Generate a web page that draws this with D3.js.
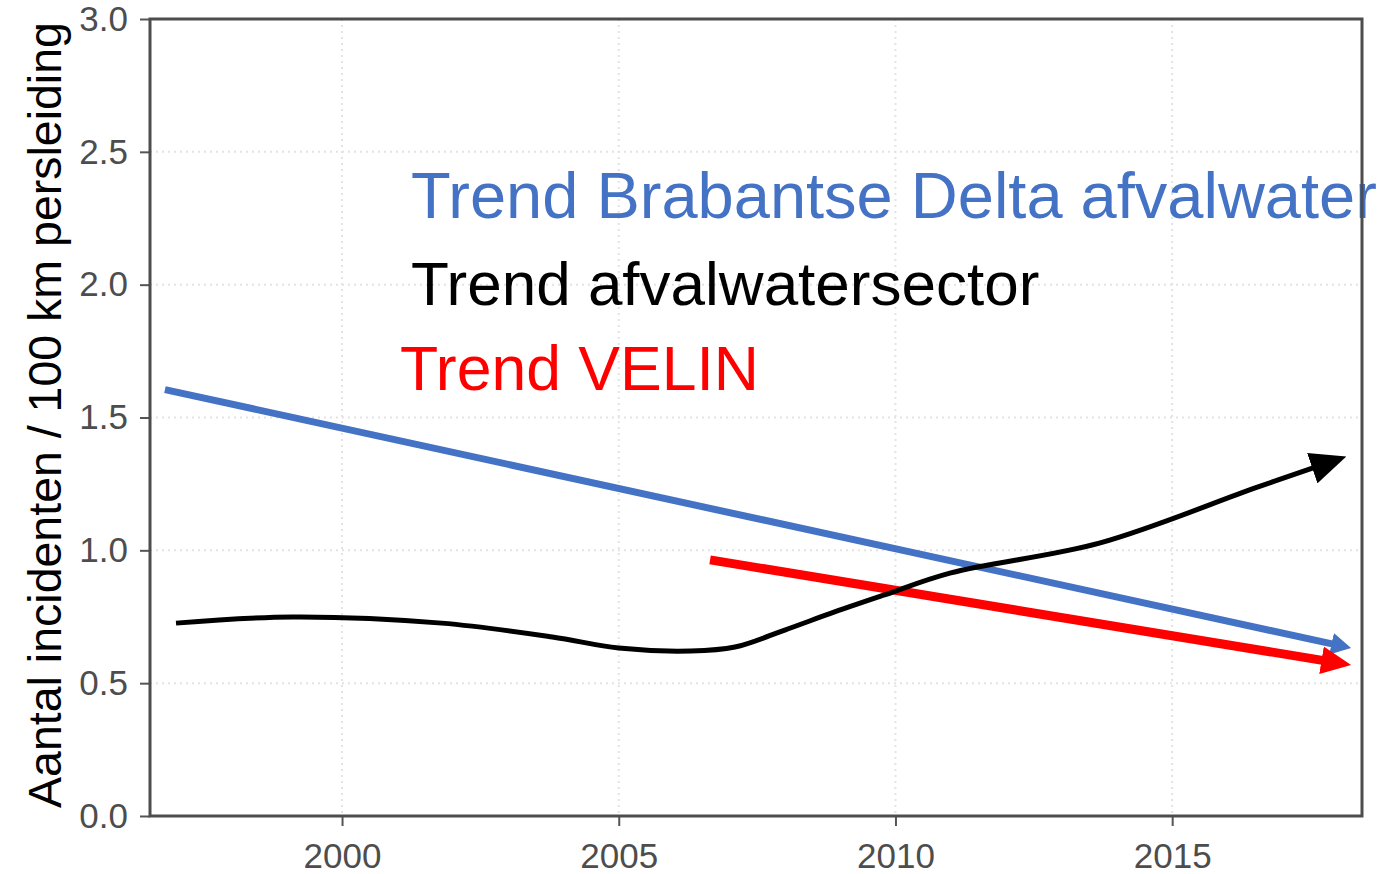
<!DOCTYPE html>
<html>
<head>
<meta charset="utf-8">
<script src="https://cdn.jsdelivr.net/npm/d3@7"></script>
<style>
body { margin:0; background:#fff; }
text { font-family: Arial, "Liberation Sans", sans-serif; }
</style>
</head>
<body>
<svg id="trendgraph"></svg>
<script>
// values
var yTicks = [0, 0.5, 1.0, 1.5, 2.0, 2.5, 3.0]
var xTicks = [2000, 2005, 2010, 2015]
var blueTrend = [[1996.8, 1.605], [2017.95, 0.645]]
var redTrend = [[2006.65, 0.964], [2017.77, 0.584]]
var sectorYears = [1997.0, 1999.1, 2001.8, 2003.8, 2005.0, 2006.3, 2007.1, 2008.0, 2008.9, 2009.8, 2011.0, 2013.7, 2016.5, 2017.6]
var sectorValues = [0.726, 0.749, 0.726, 0.674, 0.632, 0.621, 0.636, 0.700, 0.768, 0.832, 0.915, 1.028, 1.235, 1.314]
var legendLabels = ["Trend Brabantse Delta afvalwater", "Trend afvalwatersector", "Trend VELIN"]
var legendColors = ["#4472C4", "#000000", "#FF0000"]

var screen = {width:1381, height:874}
var margins = {top:19, bottom:58, left:150, right:19}
var graph = {
    width:screen.width-margins.left-margins.right,
    height:screen.height-margins.top-margins.bottom
}

var target = d3.select("#trendgraph")
    .attr("width", screen.width)
    .attr("height", screen.height)

var xScale = d3.scaleLinear()
    .domain([1996.53, 2018.43])
    .range([0, graph.width])
var yScale = d3.scaleLinear()
    .domain([0, 3])
    .range([graph.height, 0])

var g = target.append("g")
    .attr("transform", "translate("+margins.left+","+margins.top+")")

// arrow heads
var defs = target.append("defs")
var makeArrow = function(id, len, wid, color, ref) {
    defs.append("marker")
        .attr("id", id)
        .attr("markerUnits", "userSpaceOnUse")
        .attr("viewBox", "0 0 "+len+" "+wid)
        .attr("markerWidth", len)
        .attr("markerHeight", wid)
        .attr("refX", ref)
        .attr("refY", wid/2)
        .attr("orient", "auto")
        .append("path")
        .attr("d", "M0,0 L"+len+","+(wid/2)+" L0,"+wid+" Z")
        .attr("fill", color)
}
makeArrow("arrBlue", 20, 22, "#4472C4", 4)
makeArrow("arrRed", 30, 28, "#FF0000", 4)
makeArrow("arrBlack", 36, 32, "#000000", 4)

// grid
g.append("g").selectAll("line")
    .data(yTicks)
    .enter().append("line")
    .attr("x1", 0).attr("x2", graph.width)
    .attr("y1", function(d){return yScale(d)})
    .attr("y2", function(d){return yScale(d)})
    .attr("stroke", "#e3e3e3")
    .attr("stroke-width", 2)
    .attr("stroke-dasharray", "2,4")
g.append("g").selectAll("line")
    .data(xTicks)
    .enter().append("line")
    .attr("y1", 0).attr("y2", graph.height)
    .attr("x1", function(d){return xScale(d)})
    .attr("x2", function(d){return xScale(d)})
    .attr("stroke", "#e3e3e3")
    .attr("stroke-width", 2)
    .attr("stroke-dasharray", "2,4")

// legend text
g.append("g").selectAll("text")
    .data(legendLabels)
    .enter().append("text")
    .text(function(d){return d})
    .attr("x", function(d,i){return [261, 261, 250][i]})
    .attr("y", function(d,i){return [199, 286, 371][i]})
    .attr("fill", function(d,i){return legendColors[i]})
    .style("font-size", function(d,i){return [65, 62, 62.5][i]+"px"})

// trend lines
var lineGen = d3.line()
    .x(function(d){return xScale(d[0])})
    .y(function(d){return yScale(d[1])})

g.append("path")
    .datum(blueTrend)
    .attr("d", lineGen)
    .attr("fill", "none")
    .attr("stroke", "#4472C4")
    .attr("stroke-width", 7)
    .attr("marker-end", "url(#arrBlue)")

g.append("path")
    .datum(redTrend)
    .attr("d", lineGen)
    .attr("fill", "none")
    .attr("stroke", "#FF0000")
    .attr("stroke-width", 9)
    .attr("marker-end", "url(#arrRed)")

var sector = sectorYears.map(function(y,i){return [y, sectorValues[i]]})
g.append("path")
    .datum(sector)
    .attr("d", lineGen.curve(d3.curveCatmullRom))
    .attr("fill", "none")
    .attr("stroke", "#000")
    .attr("stroke-width", 5)
    .attr("marker-end", "url(#arrBlack)")

// axes
var yAxis = d3.axisLeft(yScale)
    .tickValues(yTicks)
    .tickFormat(d3.format(".1f"))
    .tickSize(10)
    .tickPadding(12)
var xAxis = d3.axisBottom(xScale)
    .tickValues(xTicks)
    .tickFormat(d3.format("d"))
    .tickSize(10)
    .tickPadding(17)

var ya = g.append("g").call(yAxis)
var xa = g.append("g")
    .attr("transform", "translate(0,"+graph.height+")")
    .call(xAxis)
ya.select(".domain").remove()
xa.select(".domain").remove()
target.selectAll(".tick line").attr("stroke", "#555").attr("stroke-width", 2)
target.selectAll(".tick text")
    .attr("fill", "#4d4d4d")
    .style("font-size", "35px")
    .style("font-family", "Arial, 'Liberation Sans', sans-serif")

// panel border
g.append("rect")
    .attr("x", 0).attr("y", 0)
    .attr("width", graph.width).attr("height", graph.height)
    .attr("fill", "none")
    .attr("stroke", "#4d4d4d")
    .attr("stroke-width", 3)

// axis title
target.append("g")
    .attr("transform", "translate(61,415)")
    .append("text")
    .text("Aantal incidenten / 100 km persleiding")
    .attr("text-anchor", "middle")
    .attr("transform", "rotate(270)")
    .attr("fill", "#000")
    .style("font-size", "46.5px")
</script>
</body>
</html>
